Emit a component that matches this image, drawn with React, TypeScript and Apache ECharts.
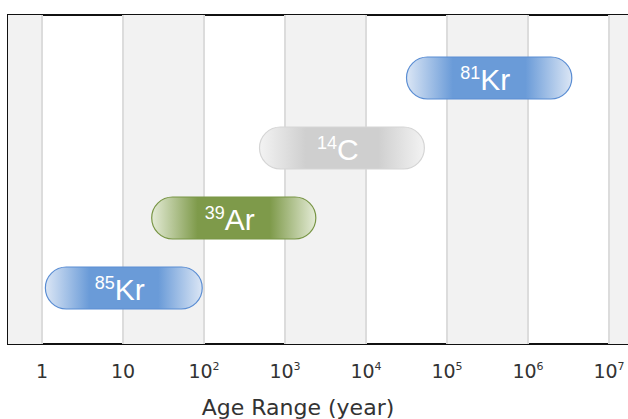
import React, { useEffect, useRef } from "react";
import * as echarts from "echarts";

// Isotopes (bottom to top) and their dating ranges in years
const massNumbers = ["85", "39", "14", "81"];
const elements = ["Kr", "Ar", "C", "Kr"];
const rowPositions = [1, 2, 3, 4];
const rangeStartYears = [1.1, 22.6, 484, 31600];
const rangeEndYears = [95, 2400, 52500, 3470000];
const tickExponents = [0, 1, 2, 3, 4, 5, 6, 7];
const axisTitle = "Age Range (year)";

const fills = [
  { solid: "#6a9bd8", light: "#dbe6f5", stroke: "#5a8dd3" },
  { solid: "#7e9a4a", light: "#e4ebd6", stroke: "#789545" },
  { solid: "#cfcfcf", light: "#f3f3f3", stroke: "#d5d5d5" },
  { solid: "#6a9bd8", light: "#dbe6f5", stroke: "#5a8dd3" },
];

const X_MIN = -0.42;
const X_MAX = 7.234;

export default function App() {
  const ref = useRef<HTMLDivElement>(null);
  useEffect(() => {
    if (!ref.current) return;
    const chart = echarts.init(ref.current, undefined, { renderer: "svg" });

    const pillData = massNumbers.map((m, i) => [
      Math.log10(rangeStartYears[i]),
      Math.log10(rangeEndYears[i]),
      rowPositions[i],
      i,
    ]);

    const bands: any[] = [];
    for (let k = -1; k <= 7; k += 2) {
      bands.push([
        { xAxis: Math.max(X_MIN, k) },
        { xAxis: Math.min(X_MAX, k + 1) },
      ]);
    }

    const option: any = {
      animation: false,
      grid: {
        left: 8,
        right: 0,
        top: 15,
        bottom: 75,
        outerBoundsMode: "none",
        containLabel: false,
        show: true,
        borderColor: "#111",
        borderWidth: 2,
        backgroundColor: "#ffffff",
      },
      xAxis: {
        type: "value",
        min: X_MIN,
        max: X_MAX,
        axisLine: { show: false },
        axisTick: { show: false },
        splitLine: { show: false },
        axisLabel: {
          customValues: tickExponents,
          margin: 17,
          color: "#333",
          fontFamily: "DejaVu Sans",
          fontSize: 19,
          formatter: (v: number) =>
            v === 0 ? "1" : v === 1 ? "10" : `10{sup|${v}}`,
          rich: {
            sup: {
              fontSize: 11,
              fontFamily: "DejaVu Sans",
              color: "#333",
              verticalAlign: "top",
            },
          },
        },
        name: axisTitle,
        nameLocation: "middle",
        nameGap: 52,
        nameTextStyle: {
          color: "#333",
          fontFamily: "DejaVu Sans",
          fontSize: 22,
          padding: [0, 40, 0, 0],
        },
      },
      yAxis: {
        type: "value",
        min: 0.2,
        max: 4.9,
        show: false,
        splitLine: { show: false },
      },
      series: [
        {
          type: "line",
          data: [],
          z: 1,
          silent: true,
          markArea: {
            silent: true,
            itemStyle: { color: "#f2f2f2" },
            data: bands,
          },
          markLine: {
            silent: true,
            symbol: "none",
            label: { show: false },
            lineStyle: { color: "#dcdcdc", width: 2, type: "solid" },
            data: tickExponents.map((k) => ({ xAxis: k })),
          },
        },
        {
          type: "custom",
          z: 10,
          data: pillData,
          renderItem: (params: any, api: any) => {
            const s = api.value(0);
            const e = api.value(1);
            const row = api.value(2);
            const idx = api.value(3);
            const p0 = api.coord([s, row]);
            const p1 = api.coord([e, row]);
            const h = api.size([0, 0.6])[1];
            const f = fills[idx];
            const w = p1[0] - p0[0];
            return {
              type: "group",
              children: [
                {
                  type: "rect",
                  shape: { x: p0[0], y: p0[1] - h / 2, width: w, height: h, r: h / 2 },
                  style: {
                    fill: new echarts.graphic.LinearGradient(0, 0, 1, 0, [
                      { offset: 0, color: f.light },
                      { offset: 0.28, color: f.solid },
                      { offset: 0.72, color: f.solid },
                      { offset: 1, color: f.light },
                    ]),
                    stroke: f.stroke,
                    lineWidth: 1.2,
                  },
                },
                {
                  type: "text",
                  x: p0[0] + w / 2 - 4,
                  y: p0[1] + 1,
                  style: {
                    text: `{s|${massNumbers[idx]}}{m|${elements[idx]}}`,
                    align: "center",
                    verticalAlign: "middle",
                    fill: "#fff",
                    rich: {
                      s: {
                        fontSize: 18,
                        fontFamily: "Liberation Sans",
                        fill: "#fff",
                        verticalAlign: "top",
                      },
                      m: {
                        fontSize: 30,
                        fontFamily: "Liberation Sans",
                        fill: "#fff",
                      },
                    },
                  },
                },
              ],
            };
          },
        },
      ],
    };
    chart.setOption(option);
    return () => chart.dispose();
  }, []);

  return (
    <div
      ref={ref}
      style={{ width: 628, height: 419, position: "absolute", left: 0, top: 0 }}
    />
  );
}
